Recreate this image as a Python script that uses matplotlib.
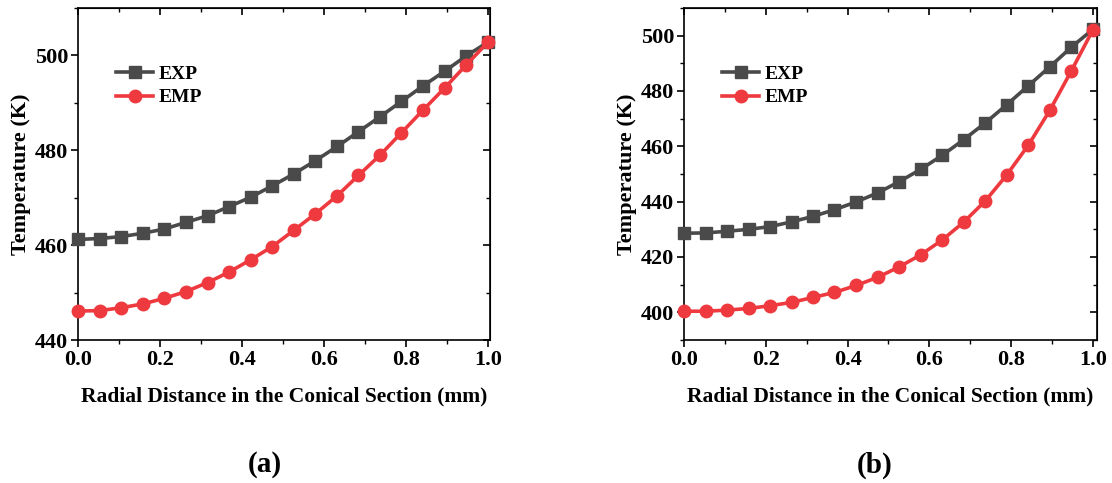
import matplotlib
matplotlib.use("Agg")
import matplotlib.pyplot as plt
from matplotlib.ticker import MultipleLocator

plt.rcParams["font.family"] = ["Liberation Serif", "DejaVu Serif"]
plt.rcParams["font.weight"] = "bold"

# radial positions (mm), 20 sample points
radial = [0.0, 0.053, 0.105, 0.158, 0.211, 0.263, 0.316, 0.368, 0.421, 0.474,
          0.526, 0.579, 0.632, 0.684, 0.737, 0.789, 0.842, 0.895, 0.947, 1.0]

# panel (a)
exp_a = [461.2, 461.4, 461.8, 462.5, 463.4, 464.8, 466.2, 468.1, 470.1, 472.5,
         475.0, 477.8, 480.8, 483.9, 487.1, 490.3, 493.6, 496.7, 499.9, 502.8]
emp_a = [446.1, 446.2, 446.8, 447.6, 448.8, 450.2, 452.1, 454.3, 456.9, 459.7,
         463.1, 466.6, 470.4, 474.7, 479.0, 483.7, 488.5, 493.2, 498.0, 502.8]

# panel (b)
exp_b = [428.6, 428.7, 429.3, 430.0, 431.0, 432.7, 434.7, 437.1, 439.9, 443.2,
         447.2, 451.7, 456.8, 462.4, 468.5, 475.0, 481.9, 488.8, 495.8, 502.3]
emp_b = [400.4, 400.4, 400.8, 401.4, 402.4, 403.6, 405.4, 407.2, 409.7, 412.7,
         416.4, 420.8, 426.2, 432.6, 440.3, 449.6, 460.4, 473.1, 487.2, 502.1]

EXP_COLOR = "#4a4a4a"
EMP_COLOR = "#ee3a3f"


def style_panel(ax, ylim, xmax):
    ax.set_xlim(0, xmax)
    ax.set_ylim(*ylim)
    ax.xaxis.set_major_locator(MultipleLocator(0.2))
    ax.xaxis.set_minor_locator(MultipleLocator(0.1))
    ax.yaxis.set_major_locator(MultipleLocator(20))
    ax.yaxis.set_minor_locator(MultipleLocator(10))
    ax.tick_params(which="major", direction="out", length=5, width=1.2, labelsize=16, pad=2)
    ax.tick_params(which="minor", direction="out", length=3, width=1.0)
    for lbl in ax.get_xticklabels() + ax.get_yticklabels():
        lbl.set_fontweight("bold")
    for sp in ax.spines.values():
        sp.set_linewidth(1.2)

    # mirrored ticks pointing inward on top/right
    top = ax.secondary_xaxis("top")
    top.xaxis.set_major_locator(MultipleLocator(0.2))
    top.xaxis.set_minor_locator(MultipleLocator(0.1))
    top.tick_params(which="major", direction="in", length=5, width=1.2, labeltop=False)
    top.tick_params(which="minor", direction="in", length=3, width=1.0)
    right = ax.secondary_yaxis("right")
    right.yaxis.set_major_locator(MultipleLocator(20))
    right.yaxis.set_minor_locator(MultipleLocator(10))
    right.tick_params(which="major", direction="in", length=5, width=1.2, labelright=False)
    right.tick_params(which="minor", direction="in", length=3, width=1.0)

    ax.set_xlabel("Radial Distance in the Conical Section (mm)", fontsize=15.5,
                  fontweight="bold", labelpad=12)
    ax.set_ylabel("Temperature (K)", fontsize=16, fontweight="bold", labelpad=3)
    ax.legend(loc="upper left", bbox_to_anchor=(0.05, 0.88), frameon=False,
              handlelength=1.9, handletextpad=0.3, labelspacing=0.3,
              prop={"weight": "bold", "size": 14})


fig = plt.figure(figsize=(11.12, 4.83), dpi=100)
ax_a = fig.add_axes([78 / 1112, 143 / 483, 412 / 1112, 332 / 483])
ax_b = fig.add_axes([684 / 1112, 143 / 483, 413 / 1112, 332 / 483])

for ax, exp, emp in [(ax_a, exp_a, emp_a), (ax_b, exp_b, emp_b)]:
    ax.plot(radial, exp, "s-", color=EXP_COLOR, lw=2.6, ms=8, label="EXP", clip_on=False, zorder=3)
    ax.plot(radial, emp, "o-", color=EMP_COLOR, lw=2.6, ms=9, label="EMP", clip_on=False, zorder=4)

style_panel(ax_a, (440, 510), 1.005)
style_panel(ax_b, (390, 510), 1.01)

fig.text(265 / 1112, 1 - 465 / 483, "(a)", ha="center", va="center", fontsize=21, fontweight="bold")
fig.text(875 / 1112, 1 - 465 / 483, "(b)", ha="center", va="center", fontsize=21, fontweight="bold")

fig.savefig("out.png", dpi=100)
